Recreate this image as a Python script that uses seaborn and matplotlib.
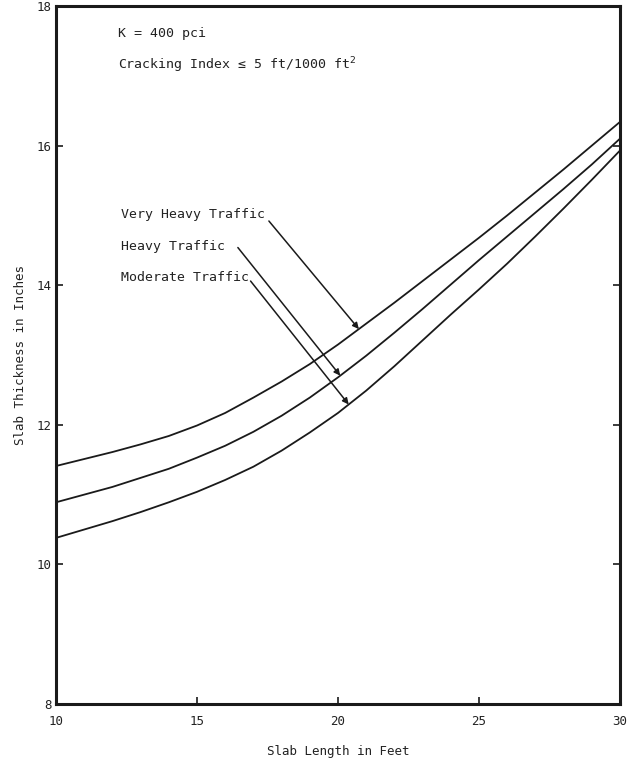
import numpy as np
import pandas as pd
import matplotlib
matplotlib.use("Agg")
import matplotlib.pyplot as plt
import seaborn as sns

# Slab length (ft) and required slab thickness (in) for each traffic class
slab_length = list(range(10, 31))
very_heavy = [11.41, 11.51, 11.61, 11.72, 11.84, 11.99, 12.17, 12.39, 12.62, 12.87,
              13.15, 13.45, 13.75, 14.06, 14.37, 14.68, 15.00, 15.33, 15.66, 16.00, 16.34]
heavy = [10.89, 11.00, 11.11, 11.24, 11.37, 11.53, 11.70, 11.90, 12.13, 12.39,
         12.68, 12.99, 13.32, 13.66, 14.01, 14.36, 14.70, 15.04, 15.38, 15.73, 16.10]
moderate = [10.38, 10.50, 10.62, 10.75, 10.89, 11.04, 11.21, 11.40, 11.63, 11.89,
            12.17, 12.49, 12.84, 13.21, 13.58, 13.94, 14.31, 14.70, 15.10, 15.51, 15.93]

series_names = ["Very Heavy Traffic", "Heavy Traffic", "Moderate Traffic"]
x_ticks = [10, 15, 20, 25, 30]
y_ticks = [8, 10, 12, 14, 16, 18]

df = pd.DataFrame({
    "length": slab_length * 3,
    "thickness": very_heavy + heavy + moderate,
    "traffic": sum([[n] * len(slab_length) for n in series_names], []),
})

sns.set_style("white")
mono = ["DejaVu Sans Mono", "DejaVu Sans"]
plt.rcParams["font.family"] = mono

fig = plt.figure(figsize=(6.34, 7.63), dpi=100)
ax = fig.add_axes([0.0883, 0.0773, 0.8896, 0.9148])

sns.lineplot(data=df, x="length", y="thickness", units="traffic",
             estimator=None, color="#1a1a1a", linewidth=1.3, ax=ax,
             legend=False)

ax.set_xlim(10, 30)
ax.set_ylim(8, 18)
ax.set_xticks(x_ticks)
ax.set_yticks(y_ticks)
ax.set_xticklabels([str(t) for t in x_ticks], fontsize=9)
ax.set_yticklabels([str(t) for t in y_ticks], fontsize=9)
ax.tick_params(axis="both", direction="in", length=5, width=1.2,
               colors="#1a1a1a", labelcolor="#222222",
               bottom=True, left=True)
ax.tick_params(axis="x", pad=8)
ax.tick_params(axis="y", pad=3, right=True, labelright=False)
for sp in ax.spines.values():
    sp.set_linewidth(2.2)
    sp.set_color("#1a1a1a")

ax.set_xlabel("Slab Length in Feet", fontsize=9, labelpad=12, color="#222222")
ax.set_ylabel("Slab Thickness in Inches", fontsize=9, labelpad=7, color="#222222")

ax.text(12.2, 17.6, "K = 400 pci", fontsize=9.5, va="center", color="#222222")
ax.text(12.2, 17.15, "Cracking Index \u2264 5 ft/1000 ft$^2$", fontsize=9.5,
        va="center", color="#222222")

# Callouts pointing to each curve
labels = [
    ("Very Heavy Traffic", (12.3, 15.01), (17.55, 14.92), 20.74, very_heavy),
    ("Heavy Traffic", (12.3, 14.56), (16.45, 14.54), 20.08, heavy),
    ("Moderate Traffic", (12.3, 14.11), (16.9, 14.06), 20.38, moderate),
]
for name, tpos, start, xt, vals in labels:
    ax.text(tpos[0], tpos[1], name, fontsize=9.5, va="center", color="#222222")
    yt = float(np.interp(xt, slab_length, vals))
    ax.annotate("", xy=(xt, yt), xytext=start,
                arrowprops=dict(arrowstyle="-|>", color="#1a1a1a", lw=1.1,
                                mutation_scale=9, shrinkA=0, shrinkB=0))

fig.savefig("out.png", dpi=100)
